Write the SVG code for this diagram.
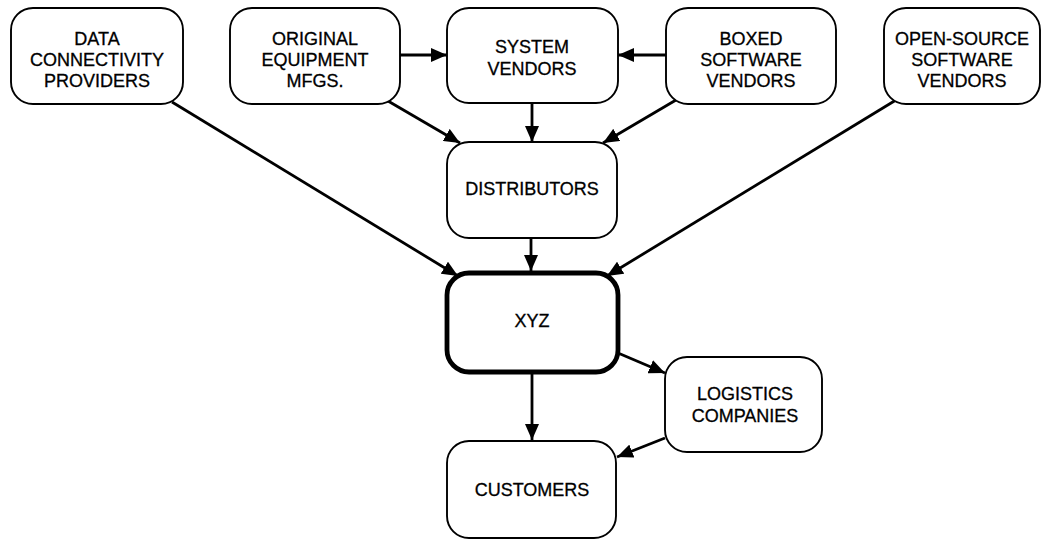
<svg xmlns="http://www.w3.org/2000/svg" width="1046" height="541" viewBox="0 0 1046 541">
<style>
.node rect{fill:#fff;stroke:#000;stroke-width:1.9}
#xyz rect{stroke-width:4.8}
text{font-family:"Liberation Sans",Arial,sans-serif;font-size:18px;fill:#000;stroke:#000;stroke-width:0.3;text-anchor:middle}
.conn line{stroke:#000;stroke-width:2.8;marker-end:url(#ah)}
</style>
<defs>
<marker id="ah" markerUnits="userSpaceOnUse" markerWidth="16" markerHeight="14" refX="16" refY="7" orient="auto">
<path d="M0,0 L16,7 L0,14 z" fill="#000"/>
</marker>
</defs>
<rect width="1046" height="541" fill="#fff"/>
<g class="conn">
<line x1="400" y1="55" x2="447" y2="55"/>
<line x1="666" y1="55" x2="618" y2="55"/>
<line x1="532" y1="103" x2="532" y2="142"/>
<line x1="388" y1="101" x2="460" y2="143"/>
<line x1="676" y1="100" x2="603" y2="143"/>
<line x1="172" y1="102" x2="458" y2="276"/>
<line x1="896" y1="100" x2="607" y2="276"/>
<line x1="531" y1="238" x2="531" y2="271"/>
<line x1="618" y1="353" x2="665" y2="373"/>
<line x1="532" y1="374" x2="532" y2="440"/>
<line x1="665" y1="438" x2="617" y2="457"/>
</g>
<g id="data" class="node"><rect x="11" y="8" width="172" height="96" rx="22"/><text x="97" y="45">DATA</text><text x="97" y="66">CONNECTIVITY</text><text x="97" y="87">PROVIDERS</text></g>
<g id="oem" class="node"><rect x="230" y="8" width="170" height="96" rx="22"/><text x="315" y="45">ORIGINAL</text><text x="315" y="66">EQUIPMENT</text><text x="315" y="87">MFGS.</text></g>
<g id="system" class="node"><rect x="447" y="8" width="171" height="95" rx="22"/><text x="532" y="53">SYSTEM</text><text x="532" y="75">VENDORS</text></g>
<g id="boxed" class="node"><rect x="666" y="8" width="170" height="96" rx="22"/><text x="751" y="45">BOXED</text><text x="751" y="66">SOFTWARE</text><text x="751" y="87">VENDORS</text></g>
<g id="opensource" class="node"><rect x="884" y="8" width="156" height="96" rx="22"/><text x="962" y="45">OPEN-SOURCE</text><text x="962" y="66">SOFTWARE</text><text x="962" y="87">VENDORS</text></g>
<g id="distributors" class="node"><rect x="447" y="142" width="170" height="96" rx="22"/><text x="532" y="195">DISTRIBUTORS</text></g>
<g id="xyz" class="node"><rect x="447" y="273" width="171" height="99" rx="22"/><text x="532" y="327">XYZ</text></g>
<g id="logistics" class="node"><rect x="665" y="357" width="157" height="95" rx="22"/><text x="745" y="400">LOGISTICS</text><text x="745" y="422">COMPANIES</text></g>
<g id="customers" class="node"><rect x="447" y="441" width="169" height="97" rx="22"/><text x="532" y="496">CUSTOMERS</text></g>
</svg>
